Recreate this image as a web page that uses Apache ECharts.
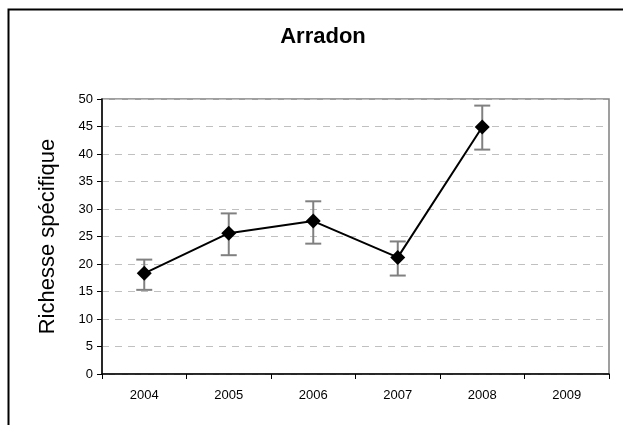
<!DOCTYPE html>
<html><head><meta charset="utf-8">
<script src="https://cdn.jsdelivr.net/npm/echarts@6/dist/echarts.min.js"></script>
<style>html,body{margin:0;padding:0;background:#fff}#c{width:623px;height:425px}</style>
</head><body><div id="c"></div>
<script>
var categories = ['2004','2005','2006','2007','2008','2009'];
var values = [18.3, 25.6, 27.8, 21.2, 44.9, null];
var errLow = [15.3, 21.6, 23.7, 17.9, 40.8, null];
var errHigh = [20.8, 29.2, 31.4, 24.1, 48.8, null];
var titleText = 'Arradon';
var yName = 'Richesse spécifique';

var errData = [];
for (var i = 0; i < categories.length; i++) {
  if (values[i] != null) errData.push([i, errLow[i], errHigh[i]]);
}

var chart = echarts.init(document.getElementById('c'));
chart.setOption({
  animation: false,
  backgroundColor: '#fff',
  title: {text: titleText, left: 318, top: 21, textAlign: 'center',
    textStyle: {fontFamily: 'Liberation Sans', fontWeight: 'bold', fontSize: 22, color: '#000'}},
  graphic: [{type: 'rect', left: 6, top: 7, shape: {x: 0, y: 0, width: 700, height: 500},
    style: {fill: 'none', stroke: '#000', lineWidth: 2}, silent: true, z: 100}],
  grid: {left: 102, top: 99, width: 507, height: 275, show: true, borderColor: '#808080', borderWidth: 1.5, backgroundColor: 'transparent'},
  xAxis: {type: 'category', data: categories, boundaryGap: true,
    axisLine: {lineStyle: {color: '#000', width: 1.5}},
    axisTick: {show: true, alignWithLabel: false, length: 5, lineStyle: {color: '#000'}},
    axisLabel: {fontFamily: 'Liberation Sans', fontSize: 13, color: '#000', margin: 15},
    splitLine: {show: false}},
  yAxis: {type: 'value', min: 0, max: 50, interval: 5,
    name: yName, nameLocation: 'middle', nameGap: 43,
    nameTextStyle: {fontFamily: 'Liberation Sans', fontSize: 22, color: '#000'},
    axisLine: {show: true, lineStyle: {color: '#000', width: 1.5}},
    axisTick: {show: true, length: 5, lineStyle: {color: '#000'}},
    axisLabel: {fontFamily: 'Liberation Sans', fontSize: 13, color: '#000', margin: 9},
    splitLine: {show: true, lineStyle: {color: '#c0c0c0', type: [7, 6], width: 1}}},
  series: [
    {type: 'custom', data: errData, z: 2,
      renderItem: function (params, api) {
        var lo = api.coord([api.value(0), api.value(1)]);
        var hi = api.coord([api.value(0), api.value(2)]);
        var w = 8;
        var st = {stroke: '#808080', lineWidth: 2};
        return {type: 'group', children: [
          {type: 'line', shape: {x1: hi[0], y1: hi[1], x2: lo[0], y2: lo[1]}, style: st},
          {type: 'line', shape: {x1: hi[0]-w, y1: hi[1], x2: hi[0]+w, y2: hi[1]}, style: st},
          {type: 'line', shape: {x1: lo[0]-w, y1: lo[1], x2: lo[0]+w, y2: lo[1]}, style: st}
        ]};
      }},
    {type: 'line', data: values, z: 3, symbol: 'diamond', symbolSize: 15,
      itemStyle: {color: '#000'}, lineStyle: {color: '#000', width: 2}}
  ]
});
</script></body></html>
